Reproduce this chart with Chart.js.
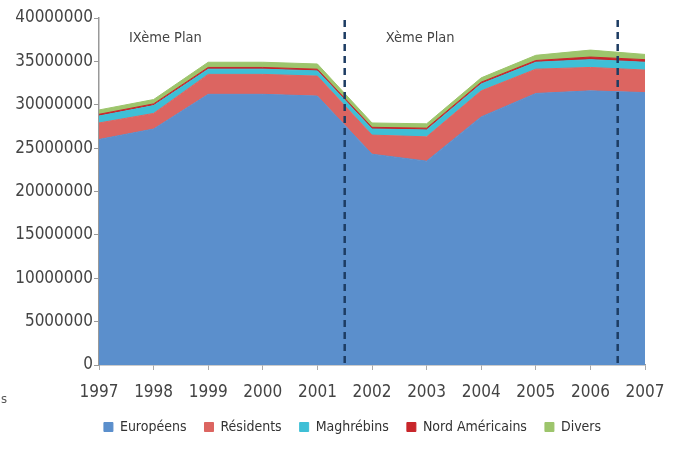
<!DOCTYPE html>
<html>
<head>
<meta charset="utf-8">
<script src="https://cdn.jsdelivr.net/npm/chart.js@4.4.0/dist/chart.umd.min.js"></script>
<style>
  html, body { margin: 0; padding: 0; background: #fff; }
  #wrap { width: 684px; height: 466px; position: relative; }
</style>
</head>
<body>
<div id="wrap"><canvas id="chart" width="684" height="466"></canvas></div>
<script>
// -------- DATA --------
const years = ["1997", "1998", "1999", "2000", "2001", "2002", "2003", "2004", "2005", "2006", "2007"];

const europeens      = [26000000, 27200000, 31200000, 31200000, 31000000, 24300000, 23500000, 28600000, 31300000, 31600000, 31400000];
const residents      = [1900000, 1800000, 2300000, 2300000, 2300000, 2200000, 2800000, 3000000, 2800000, 2700000, 2600000];
const maghrebins     = [800000, 900000, 600000, 600000, 600000, 700000, 800000, 800000, 800000, 900000, 900000];
const nordAmericains = [200000, 200000, 200000, 200000, 200000, 200000, 200000, 200000, 200000, 300000, 300000];
const divers         = [500000, 500000, 600000, 600000, 600000, 500000, 500000, 500000, 600000, 800000, 600000];

const yTicks = [0, 5000000, 10000000, 15000000, 20000000, 25000000, 30000000, 35000000, 40000000];

// plan separators sit between two years (index units)
const planBreaks = [4.5, 9.5];
const planLabels = [
    { text: "IXème Plan", at: 0.55 },
    { text: "Xème Plan", at: 5.25 }
];

const FONT = "'DejaVu Sans Condensed', 'Liberation Sans Narrow', sans-serif";

function layer(label, data, color, fill) {
    return {
        label,
        data,
        backgroundColor: color,
        borderColor: color,
        borderWidth: 1,
        fill,
        tension: 0,
        pointRadius: 0
    };
}

// -------- PLAN MARKERS --------
const planPlugin = {
    id: "plans",
    afterLayout(chart) {
        // legend sits a bit right of centre in the original
        chart.legend.left += 30;
        chart.legend.right += 30;
    },
    afterDatasetsDraw(chart) {
        const ctx = chart.ctx;
        const x = chart.scales.x;
        const area = chart.chartArea;

        ctx.save();
        ctx.strokeStyle = "#1d3c63";
        ctx.lineWidth = 2.5;
        ctx.setLineDash([7, 5]);
        planBreaks.forEach(b => {
            const px = x.getPixelForValue(b);
            ctx.beginPath();
            ctx.moveTo(px, area.top + 2);
            ctx.lineTo(px, area.bottom);
            ctx.stroke();
        });
        ctx.setLineDash([]);

        ctx.fillStyle = "#444";
        ctx.font = "14.5px " + FONT;
        ctx.textBaseline = "middle";
        ctx.textAlign = "left";
        planLabels.forEach(p => {
            ctx.fillText(p.text, x.getPixelForValue(p.at), area.top + 20);
        });

        // stray clipped caption at the left edge
        ctx.fillStyle = "#555";
        ctx.font = "13px " + FONT;
        ctx.fillText("s", 1, 400);
        ctx.restore();
    }
};

const ctx = document.getElementById("chart").getContext("2d");

new Chart(ctx, {
    type: "line",
    data: {
        labels: years,
        datasets: [
            layer("Européens", europeens, "#5b8fcc", "origin"),
            layer("Résidents", residents, "#dc6561", "-1"),
            layer("Maghrébins", maghrebins, "#3ebfd6", "-1"),
            layer("Nord Américains", nordAmericains, "#c8262b", "-1"),
            layer("Divers", divers, "#9dc56c", "-1")
        ]
    },
    options: {
        responsive: false,
        animation: false,
        layout: { padding: { left: 0, right: 39, top: 18, bottom: 22 } },
        scales: {
            x: {
                offset: false,
                grid: { drawOnChartArea: false, drawTicks: true, tickLength: 5, color: "#aaa" },
                border: { display: true, color: "#999", width: 1.5 },
                ticks: {
                    color: "#444",
                    font: { family: FONT, size: 17 },
                    maxRotation: 0,
                    autoSkip: false,
                    padding: 12
                },
                afterFit(scale) { scale.height = 37; }
            },
            y: {
                stacked: true,
                min: 0,
                max: 40000000,
                afterBuildTicks(scale) { scale.ticks = yTicks.map(v => ({ value: v })); },
                grid: { drawOnChartArea: false, drawTicks: true, tickLength: 5, color: "#999" },
                border: { display: true, color: "#999", width: 1.5 },
                ticks: {
                    color: "#444",
                    font: { family: FONT, size: 17 },
                    padding: 1,
                    callback: v => String(v)
                },
                afterFit(scale) { scale.width = 99; }
            }
        },
        plugins: {
            legend: {
                position: "bottom",
                labels: {
                    color: "#333",
                    font: { family: FONT, size: 14 },
                    boxWidth: 9,
                    boxHeight: 9,
                    padding: 18
                }
            },
            tooltip: { enabled: false }
        }
    },
    plugins: [planPlugin]
});
</script>
</body>
</html>
